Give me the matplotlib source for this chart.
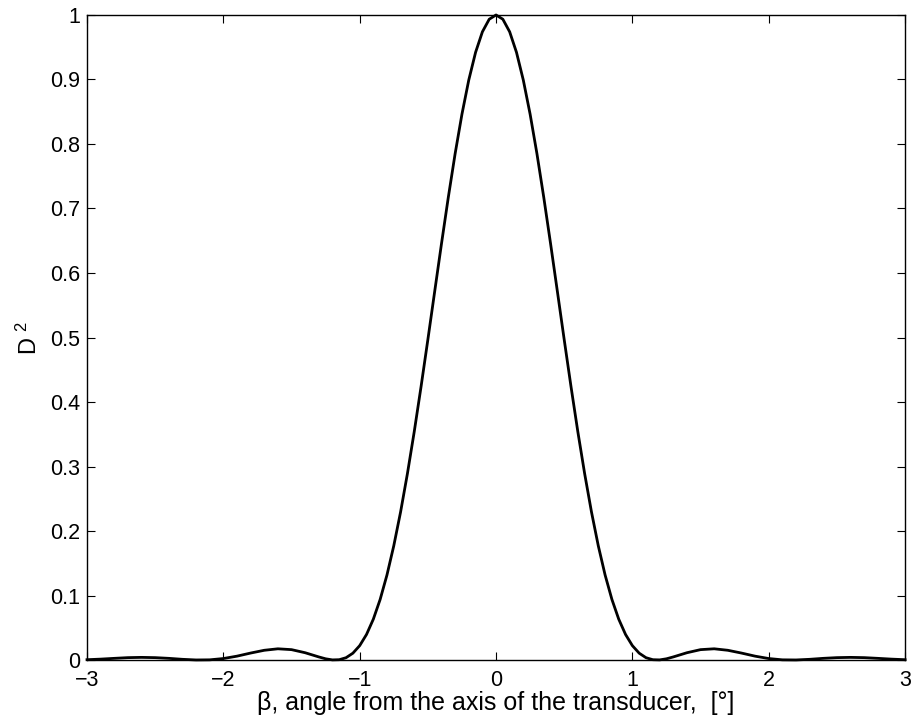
import matplotlib
matplotlib.use("Agg")
import matplotlib.pyplot as plt

plt.rcParams['font.family'] = ['Liberation Sans', 'DejaVu Sans']
plt.rcParams['mathtext.fontset'] = 'custom'
plt.rcParams['mathtext.rm'] = 'Liberation Sans'
plt.rcParams['mathtext.it'] = 'Liberation Sans'

# ==================== data ====================
beta = [-3.0, -2.9, -2.8, -2.7, -2.6, -2.5, -2.4, -2.3, -2.2, -2.1,
        -2.0, -1.9, -1.8, -1.7, -1.6, -1.5, -1.4, -1.3, -1.25, -1.2,
        -1.15, -1.1, -1.05, -1.0, -0.95, -0.9, -0.85, -0.8, -0.75, -0.7,
        -0.65, -0.6, -0.55, -0.5, -0.45, -0.4, -0.35, -0.3, -0.25, -0.2,
        -0.15, -0.1, -0.05, 0.0, 0.05, 0.1, 0.15, 0.2, 0.25, 0.3,
        0.35, 0.4, 0.45, 0.5, 0.55, 0.6, 0.65, 0.7, 0.75, 0.8,
        0.85, 0.9, 0.95, 1.0, 1.05, 1.1, 1.15, 1.2, 1.25, 1.3,
        1.4, 1.5, 1.6, 1.7, 1.8, 1.9, 2.0, 2.1, 2.2, 2.3,
        2.4, 2.5, 2.6, 2.7, 2.8, 2.9, 3.0]

d2 = [0.0005, 0.0014, 0.0026, 0.0037, 0.0041, 0.0037, 0.0026, 0.0011, 0.0001, 0.0003,
      0.0023, 0.0060, 0.0108, 0.0151, 0.0174, 0.0161, 0.0113, 0.0048, 0.0019, 0.0002,
      0.0005, 0.0036, 0.0106, 0.0223, 0.0396, 0.0633, 0.0939, 0.1318, 0.1771, 0.2296,
      0.2889, 0.3539, 0.4237, 0.4967, 0.5713, 0.6455, 0.7174, 0.7850, 0.8462, 0.8991,
      0.9421, 0.9739, 0.9934, 1.0, 0.9934, 0.9739, 0.9421, 0.8991, 0.8462, 0.7850,
      0.7174, 0.6455, 0.5713, 0.4967, 0.4237, 0.3539, 0.2889, 0.2296, 0.1771, 0.1318,
      0.0939, 0.0633, 0.0396, 0.0223, 0.0106, 0.0036, 0.0005, 0.0002, 0.0019, 0.0048,
      0.0113, 0.0161, 0.0174, 0.0151, 0.0108, 0.0060, 0.0023, 0.0003, 0.0001, 0.0011,
      0.0026, 0.0037, 0.0041, 0.0037, 0.0026, 0.0014, 0.0005]

xticks = [-3, -2, -1, 0, 1, 2, 3]
xtick_labels = ['\u22123', '\u22122', '\u22121', '0', '1', '2', '3']
yticks = [0, 0.1, 0.2, 0.3, 0.4, 0.5, 0.6, 0.7, 0.8, 0.9, 1]
ytick_labels = ['0', '0.1', '0.2', '0.3', '0.4', '0.5', '0.6', '0.7', '0.8', '0.9', '1']

# ==================== plot ====================
fig = plt.figure(figsize=(9.13, 7.2), dpi=100)
ax = fig.add_axes([0.0953, 0.0833, 0.896, 0.8959])

ax.plot(beta, d2, color='black', linewidth=2.0, clip_on=False)

ax.set_xlim(-3, 3)
ax.set_ylim(0, 1)
ax.set_xticks(xticks)
ax.set_xticklabels(xtick_labels)
ax.set_yticks(yticks)
ax.set_yticklabels(ytick_labels)
ax.tick_params(direction='in', length=5.5, width=0.8, labelsize=15.5,
               top=True, right=True)
ax.tick_params(axis='x', pad=7)
ax.tick_params(axis='y', pad=5)
for s in ax.spines.values():
    s.set_linewidth(1.0)

ax.set_xlabel('\u03b2, angle from the axis of the transducer,  [\u00b0]', fontsize=18, labelpad=0)
ax.set_ylabel('D $^{2}$', fontsize=17, labelpad=6)

fig.savefig('out.png', dpi=100)
